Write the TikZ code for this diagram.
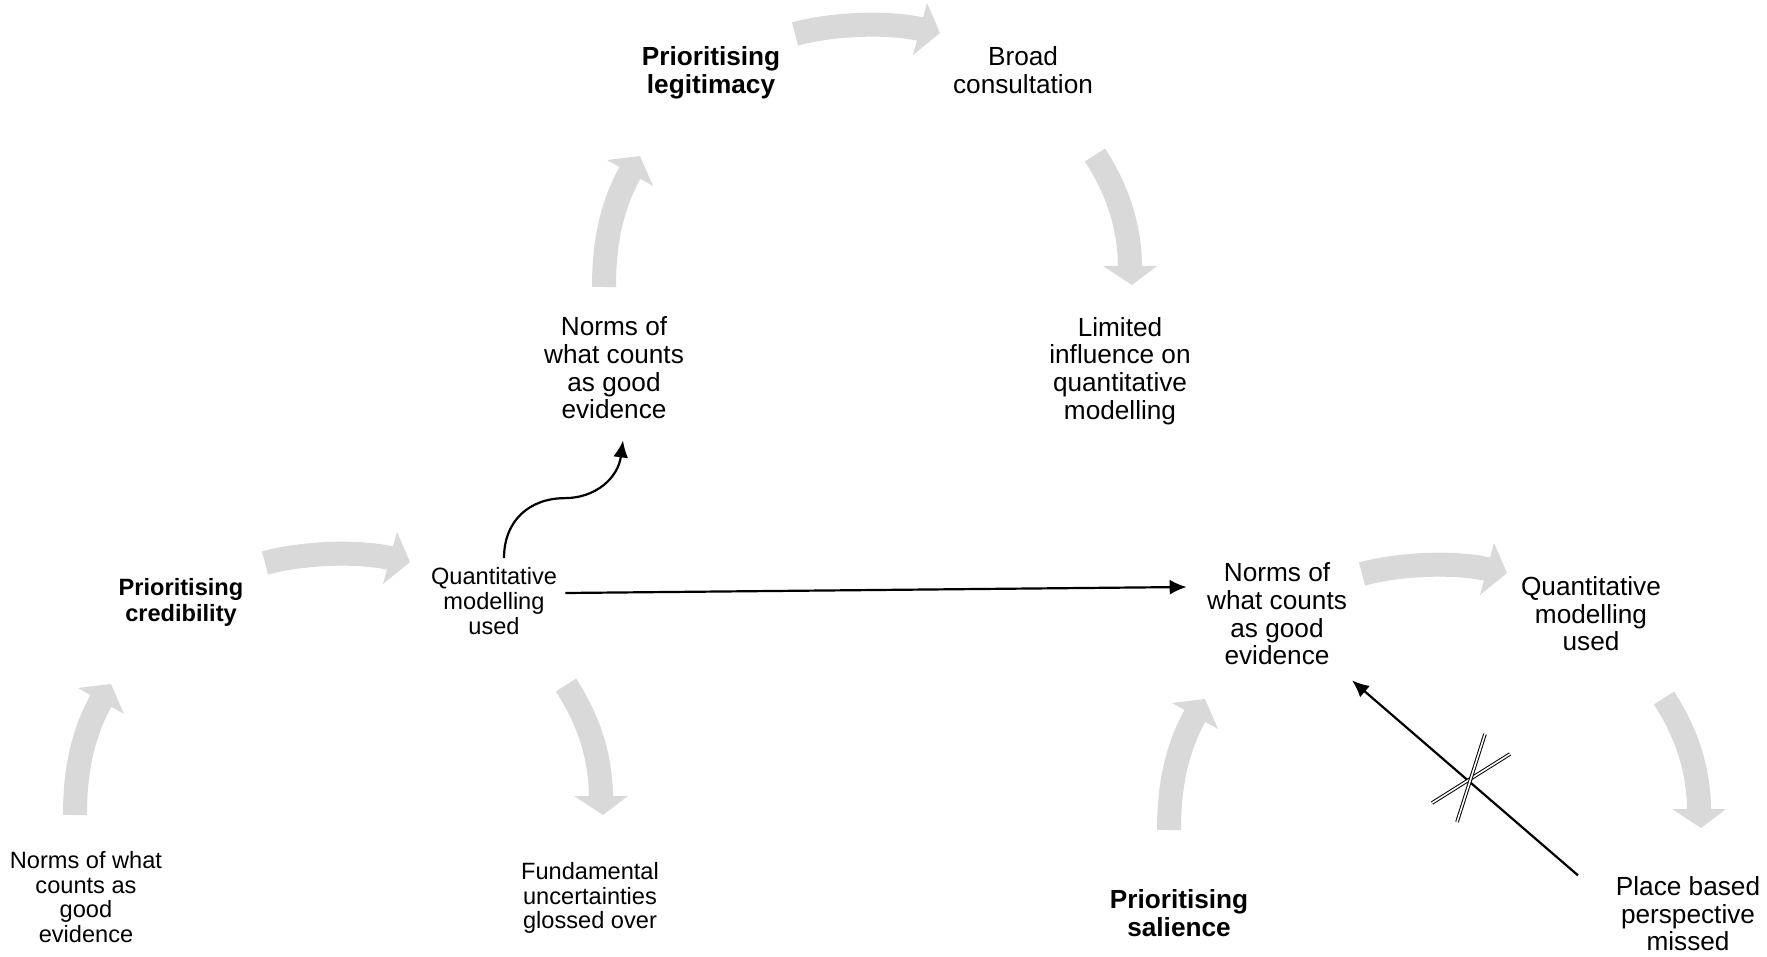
\documentclass[tikz,border=0pt]{standalone}
\usepackage{fontspec}
\setmainfont{Liberation Sans}
\usetikzlibrary{arrows.meta,calc}
\definecolor{arrowgrey}{RGB}{217,217,217}
\newcommand\GreyArrowRight[1]{%
  \begin{scope}[shift={(#1)}]
    \draw[greybody] (795,34) .. controls (829,24.5) and (886,21) .. (922,29.5);
    \fill[arrowgrey] (927,3) -- (940,33) -- (913,55) -- cycle;
  \end{scope}}
\newcommand\GreyArrowUp[1]{%
  \begin{scope}[shift={(#1)}]
    \draw[greybody] (604,287) .. controls (604,247) and (610,208) .. (631,171);
    \fill[arrowgrey] (607,160) -- (640,156) -- (653,186) -- cycle;
  \end{scope}}
\newcommand\GreyArrowDown[1]{%
  \begin{scope}[shift={(#1)}]
    \draw[greybody] (1095,155) .. controls (1117,189) and (1130,226) .. (1130,268);
    \fill[arrowgrey] (1103,266) -- (1157,266) -- (1132,285) -- cycle;
  \end{scope}}
\begin{document}
\begin{tikzpicture}[x=0.5pt,y=-0.5pt,
  every node/.style={inner sep=2pt},
  big/.style={align=center,font=\fontsize{13.1}{13.8}\selectfont},
  small/.style={align=center,font=\fontsize{11.8}{12.4}\selectfont},
  boldlbl/.style={align=center,font=\bfseries\fontsize{13.1}{14}\selectfont},
  boldsmall/.style={align=center,font=\bfseries\fontsize{11.8}{13}\selectfont},
  conn/.style={line width=1.1pt,-{Latex[length=8.5pt,width=7.5pt]}},
  greybody/.style={draw=arrowgrey,line width=12pt},
  crossbar/.style={line width=0.5pt,double=white,double distance=0.8pt}]
\useasboundingbox (0,0) rectangle (1767,957);

% grey cycle arrows
\GreyArrowRight{0,0}
\GreyArrowRight{-530,529}
\GreyArrowRight{567,540}
\GreyArrowUp{0,0}
\GreyArrowUp{-529,528}
\GreyArrowUp{565,543}
\GreyArrowDown{0,0}
\GreyArrowDown{-529,530}
\GreyArrowDown{569,543}

% labels
\node[boldlbl] (legit) at (711,73) {Prioritising\\legitimacy};
\node[big] (broad) at (1023,70) {Broad\\consultation};
\node[big] (normsT) at (614,368) {Norms of\\what counts\\as good\\evidence};
\node[big] (limited) at (1120,371) {Limited\\influence on\\quantitative\\modelling};
\node[boldsmall] (cred) at (181,602) {Prioritising\\credibility};
\node[small] (quantL) at (494,601) {Quantitative\\modelling\\used};
\node[big] (normsR) at (1277,614) {Norms of\\what counts\\as good\\evidence};
\node[big] (quantR) at (1591,614) {Quantitative\\modelling\\used};
\node[small] (normsBL) at (86,897) {Norms of what\\counts as\\good\\evidence};
\node[small] (fund) at (590,898) {Fundamental\\uncertainties\\glossed over};
\node[boldlbl] (sal) at (1179,913) {Prioritising\\salience};
\node[big] (place) at (1688,914) {Place based\\perspective\\missed};

% black connectors
\draw[conn] ($(quantL.north)+(10,-5)$) .. controls +(0,-38) and +(-35,0) .. ++(61,-60)
      .. controls +(30,0) and +(-5,38) .. ($(normsT.south)+(9,17)$);
\draw[conn] ($(quantL.east)+(4,-8)$) -- ($(normsR.west)+(-16,-27)$);
\draw[conn] ($(place.north)+(-110,3)$) -- ($(normsR.south)+(75,11)$);

% cross mark
\coordinate (cross) at (1470,779);
\draw[crossbar] ($(cross)+(-38,24)$) -- ($(cross)+(40,-25)$);
\draw[crossbar] ($(cross)+(-13,43)$) -- ($(cross)+(15,-45)$);
\end{tikzpicture}
\end{document}
